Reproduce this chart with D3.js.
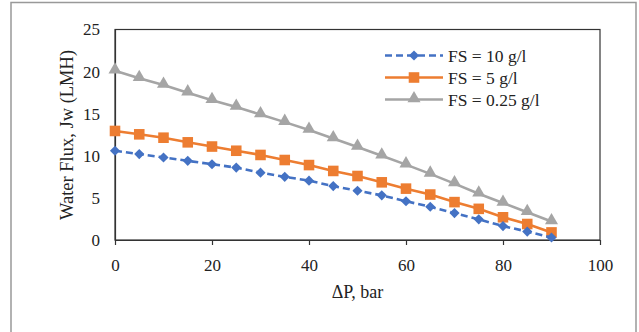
<!DOCTYPE html>
<html>
<head>
<meta charset="utf-8">
<script src="https://cdn.jsdelivr.net/npm/d3@7"></script>
<style>
  body { margin: 0; background: #fff; }
  text { font-family: "Liberation Serif", "Times New Roman", serif; fill: #222; }
</style>
</head>
<body>
<svg id="chart" width="639" height="332"></svg>
<script>
// data
const pressure = [0, 5, 10, 15, 20, 25, 30, 35, 40, 45, 50, 55, 60, 65, 70, 75, 80, 85, 90];
const fs10 = [10.6, 10.2, 9.8, 9.4, 9.0, 8.6, 8.0, 7.5, 7.05, 6.4, 5.85, 5.3, 4.6, 3.95, 3.2, 2.45, 1.65, 1.0, 0.3];
const fs5 = [12.95, 12.55, 12.15, 11.6, 11.1, 10.6, 10.1, 9.5, 8.9, 8.2, 7.6, 6.85, 6.1, 5.4, 4.5, 3.7, 2.7, 1.9, 0.9];
const fs025 = [20.1, 19.2, 18.4, 17.5, 16.6, 15.8, 14.9, 14.0, 13.06, 12.05, 11.04, 10.0, 8.95, 7.85, 6.7, 5.5, 4.4, 3.3, 2.2];
const xTicks = [0, 20, 40, 60, 80, 100];
const yTicks = [0, 5, 10, 15, 20, 25];
const seriesNames = ['FS = 10 g/l', 'FS = 5 g/l', 'FS = 0.25 g/l'];

const svg = d3.select('#chart');

// outer frame
svg.append('rect')
  .attr('x', 11).attr('y', 2.5)
  .attr('width', 625).attr('height', 340)
  .attr('fill', 'none')
  .attr('stroke', '#999')
  .attr('stroke-width', 1.5);

const margin = { top: 29.5, right: 39, bottom: 92, left: 115 };
const width = 639, height = 332;

const x = d3.scaleLinear().domain([0, 100]).range([margin.left, width - margin.right]);
const y = d3.scaleLinear().domain([0, 25]).range([height - margin.bottom, margin.top]);

// plot border
svg.append('rect')
  .attr('x', x(0)).attr('y', y(25))
  .attr('width', x(100) - x(0)).attr('height', y(0) - y(25))
  .attr('fill', 'none')
  .attr('stroke', '#333')
  .attr('stroke-width', 1.2);

// axes
const xAxis = svg.append('g')
  .attr('transform', `translate(0,${y(0)})`)
  .call(d3.axisBottom(x).tickValues(xTicks).tickSize(5).tickSizeOuter(0).tickPadding(14));
const yAxis = svg.append('g')
  .attr('transform', `translate(${x(0)},0)`)
  .call(d3.axisLeft(y).tickValues(yTicks).tickSize(0).tickPadding(15));

[xAxis, yAxis].forEach(g => {
  g.select('.domain').attr('stroke', '#333').attr('stroke-width', 1.2);
  g.selectAll('.tick line').attr('stroke', '#333').attr('stroke-width', 1.2);
  g.selectAll('.tick text')
    .style('font-family', '"Liberation Serif", serif')
    .style('font-size', '17px')
    .attr('fill', '#1a1a1a');
});

// axis titles
svg.append('text')
  .attr('x', x(50)).attr('y', 298)
  .attr('text-anchor', 'middle')
  .style('font-size', '18px')
  .text('\u0394P, bar');

svg.append('text')
  .attr('transform', `translate(73,135) rotate(-90)`)
  .attr('text-anchor', 'middle')
  .style('font-size', '18.5px')
  .text('Water Flux, Jw (LMH)');

const series = [
  { name: seriesNames[0], values: fs10, color: '#4472C4', dash: '7,4', marker: 'diamond' },
  { name: seriesNames[1], values: fs5, color: '#ED7D31', dash: null, marker: 'square' },
  { name: seriesNames[2], values: fs025, color: '#A5A5A5', dash: null, marker: 'triangle' }
];

const symbolOf = {
  diamond: d3.symbol().type(d3.symbolDiamond2).size(66),
  square: d3.symbol().type(d3.symbolSquare).size(112),
  triangle: d3.symbol().type(d3.symbolTriangle).size(74)
};

const line = d3.line()
  .x((d, i) => x(pressure[i]))
  .y(d => y(d));

// draw gray first so the others sit on top
series.slice().reverse().forEach(s => {
  const g = svg.append('g');
  g.append('path')
    .datum(s.values)
    .attr('fill', 'none')
    .attr('stroke', s.color)
    .attr('stroke-width', 2.6)
    .attr('stroke-dasharray', s.dash)
    .attr('d', line);
  g.selectAll('path.pt')
    .data(s.values)
    .join('path')
    .attr('class', 'pt')
    .attr('transform', (d, i) => `translate(${x(pressure[i])},${y(d) + (s.marker === 'triangle' ? -1 : 0)})`)
    .attr('d', symbolOf[s.marker])
    .attr('fill', s.color);
});

// legend
const legend = svg.append('g');
series.forEach((s, i) => {
  const ly = 55.5 + i * 22;
  legend.append('line')
    .attr('x1', 385).attr('x2', 443)
    .attr('y1', ly).attr('y2', ly)
    .attr('stroke', s.color)
    .attr('stroke-width', 2.6)
    .attr('stroke-dasharray', s.dash);
  legend.append('path')
    .attr('transform', `translate(414,${ly + (s.marker === 'triangle' ? -1 : 0)})`)
    .attr('d', symbolOf[s.marker])
    .attr('fill', s.color);
  legend.append('text')
    .attr('x', 448).attr('y', ly)
    .attr('dy', '0.35em')
    .style('font-size', '17.5px')
    .text(s.name);
});
</script>
</body>
</html>
